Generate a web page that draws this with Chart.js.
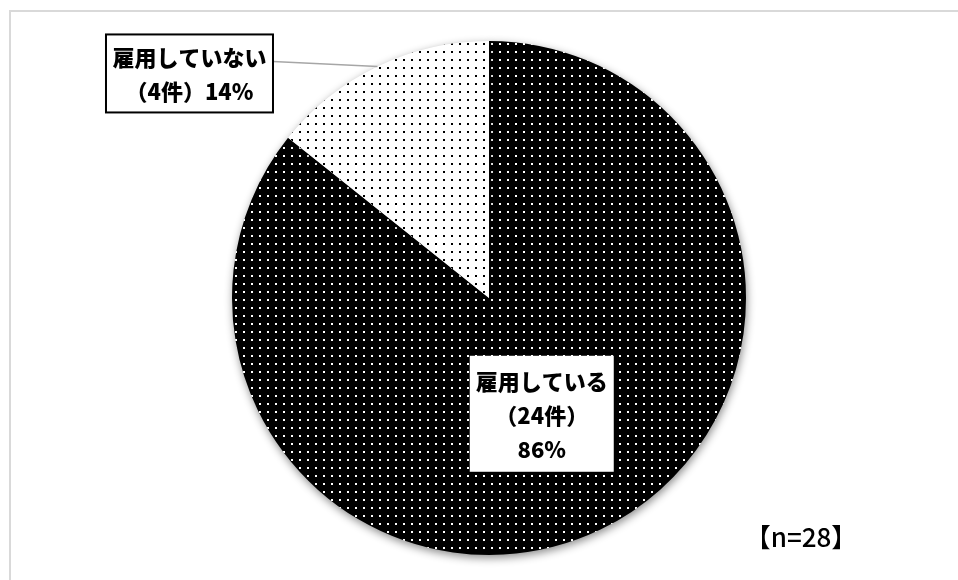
<!DOCTYPE html>
<html>
<head>
<meta charset="utf-8">
<script src="https://cdn.jsdelivr.net/npm/chart.js@4"></script>
<style>
  html, body { margin: 0; padding: 0; background: #fff; }
  #wrap { width: 958px; height: 580px; }
</style>
</head>
<body>
<div id="wrap"><canvas id="myChart" width="958" height="580"></canvas></div>
<script>
const categories = ['雇用している', '雇用していない'];
const counts = [24, 4];
const sampleLabel = '【n=28】';

const total = counts.reduce((a, b) => a + b, 0);

// dotted fills like the Excel pattern fills
function dotPattern(bg, dot) {
    const c = document.createElement('canvas');
    c.width = 8;
    c.height = 8;
    const g = c.getContext('2d');
    g.fillStyle = bg;
    g.fillRect(0, 0, 8, 8);
    g.fillStyle = dot;
    g.fillRect(3, 3, 2, 2);
    return g.createPattern(c, 'repeat');
}

const ctx = document.getElementById('myChart').getContext('2d');
const fills = [dotPattern('#000', '#fff'), dotPattern('#fff', '#000')];

const font = '"Noto Sans CJK JP", "Noto Sans", sans-serif';

const framePlugin = {
    id: 'frame',
    beforeDraw(chart) {
        const c = chart.ctx;
        c.save();
        c.fillStyle = '#fff';
        c.fillRect(0, 0, chart.width, chart.height);
        c.strokeStyle = '#d9d9d9';
        c.lineWidth = 2;
        c.strokeRect(10, 11, chart.width + 10, chart.height + 10);
        c.restore();
    }
};

const shadowPlugin = {
    id: 'pieShadow',
    beforeDatasetsDraw(chart) {
        const c = chart.ctx;
        c.save();
        c.shadowColor = 'rgba(0,0,0,0.45)';
        c.shadowBlur = 9;
        c.shadowOffsetX = 1;
        c.shadowOffsetY = 3;
    },
    afterDatasetsDraw(chart) {
        chart.ctx.restore();
    }
};

const labelPlugin = {
    id: 'sliceLabels',
    afterDatasetsDraw(chart) {
        const c = chart.ctx;
        const arcs = chart.getDatasetMeta(0).data;
        const pct = counts.map(v => Math.round(v / total * 100));
        c.save();
        c.font = '900 22px ' + font;
        c.textAlign = 'center';
        c.textBaseline = 'middle';

        // big slice: label inside
        const p = arcs[0].tooltipPosition();
        const cx = p.x - 3, cy = p.y;
        c.fillStyle = '#fff';
        c.fillRect(cx - 72, cy - 58, 144, 116);
        c.fillStyle = '#000';
        c.fillText(categories[0], cx, cy - 32);
        c.fillText('（' + counts[0] + '件）', cx, cy + 2);
        c.fillText(pct[0] + '%', cx, cy + 36);

        // small slice: label outside with leader line
        const a = arcs[1].getProps(['x', 'y', 'startAngle', 'endAngle', 'outerRadius']);
        const mid = (a.startAngle + a.endAngle) / 2;
        const ex = a.x + Math.cos(mid) * a.outerRadius;
        const ey = a.y + Math.sin(mid) * a.outerRadius;
        const bx = ex - 188, by = ey + 7;
        const bw = 167, bh = 78;
        c.strokeStyle = '#a6a6a6';
        c.lineWidth = 1.5;
        c.beginPath();
        c.moveTo(bx + bw / 2, by - 12);
        c.lineTo(ex, ey);
        c.stroke();
        c.fillStyle = '#fff';
        c.fillRect(bx - bw / 2, by - bh / 2, bw, bh);
        c.strokeStyle = '#000';
        c.lineWidth = 2;
        c.strokeRect(bx - bw / 2, by - bh / 2, bw, bh);
        c.fillStyle = '#000';
        c.fillText(categories[1], bx, by - 16);
        c.fillText('（' + counts[1] + '件）' + pct[1] + '%', bx, by + 18);

        // sample size
        c.font = '500 26px ' + font;
        c.fillText(sampleLabel, 801, 537);
        c.restore();
    }
};

const myChart = new Chart(ctx, {
    type: 'pie',
    data: {
        labels: categories,
        datasets: [{
            data: counts,
            backgroundColor: fills,
            borderWidth: 0
        }]
    },
    options: {
        responsive: false,
        animation: false,
        layout: {
            padding: { left: 20, right: 0, top: 41, bottom: 25 }
        },
        plugins: {
            legend: { display: false },
            tooltip: { enabled: false }
        }
    },
    plugins: [framePlugin, shadowPlugin, labelPlugin]
});
</script>
</body>
</html>
